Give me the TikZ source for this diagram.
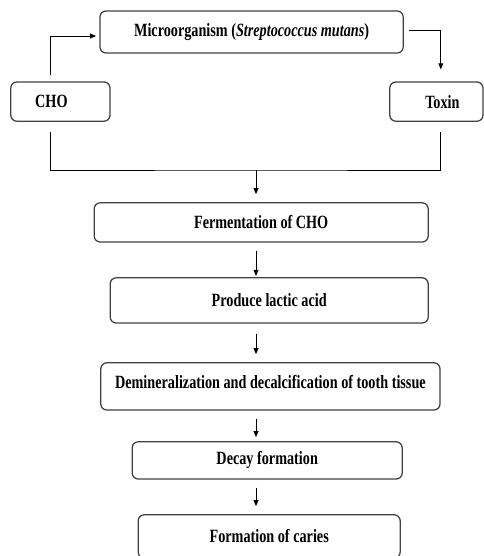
\documentclass[tikz,border=0pt]{standalone}
\usepackage{fontspec}
\setmainfont{Liberation Serif}[FakeStretch=0.76]
\usetikzlibrary{arrows.meta}

\begin{document}
\begin{tikzpicture}[
        stagebox/.style={draw=black!75, line width=0.9pt, rounded corners=0.15cm, inner sep=0pt, font=\fontsize{13.3}{15}\selectfont\bfseries},
        flow/.style={-{Triangle[length=1.5mm, width=1.2mm]}, line width=0.7pt},
        link/.style={line width=0.7pt}]
        \useasboundingbox (0, 0) rectangle (12.1, -13.9);

        \node[stagebox, minimum width=7.58cm, minimum height=1.05cm] (micro) at (6.29, -0.8) {Microorganism (\textit{Streptococcus mutans})};
        \node[stagebox, minimum width=2.48cm, minimum height=0.98cm] (cho) at (1.51, -2.54) {CHO\hspace*{0.45cm}};
        \node[stagebox, minimum width=2.33cm, minimum height=0.98cm] (toxin) at (10.91, -2.54) {\hspace*{0.3cm}Toxin};

        \node[stagebox, minimum width=8.35cm, minimum height=0.98cm] (ferm) at (6.53, -5.56) {Fermentation of CHO};
        \node[stagebox, minimum width=7.95cm, minimum height=1.13cm] (lactic) at (6.73, -7.51) {Produce lactic acid};
        \node[stagebox, minimum width=8.48cm, minimum height=1.18cm] (demin) at (6.76, -9.66) {\raisebox{0.2cm}{Demineralization and decalcification of tooth tissue}};
        \node[stagebox, minimum width=6.75cm, minimum height=0.93cm] (decay) at (6.68, -11.51) {Decay formation};
        \node[stagebox, minimum width=6.55cm, minimum height=1.08cm] (caries) at (6.73, -13.41) {Formation of caries};

        \coordinate (join) at (6.4, -4.25);

        \draw[flow, shorten <=0.15cm, shorten >=0.08cm] ([xshift=-0.26cm]cho.north) |- ([yshift=-0.1cm]micro.west);
        \draw[flow, shorten <=0.12cm, shorten >=0.3cm] ([yshift=0.05cm]micro.east) -| ([xshift=0.11cm]toxin.north);
        \draw[link] ([xshift=-0.26cm, yshift=-0.25cm]cho.south) |- (join) -| ([xshift=0.11cm, yshift=-0.25cm]toxin.south);

        \draw[flow, shorten >=0.2cm] (join) -- (ferm.north -| join);
        \draw[flow, shorten <=0.2cm, shorten >=0.03cm] (ferm.south -| join) -- (lactic.north -| join);
        \draw[flow, shorten <=0.25cm, shorten >=0.2cm] (lactic.south -| join) -- (demin.north -| join);
        \draw[flow, shorten <=0.2cm, shorten >=0.1cm] (demin.south -| join) -- (decay.north -| join);
        \draw[flow, shorten <=0.2cm, shorten >=0.2cm] (decay.south -| join) -- (caries.north -| join);

        \end{tikzpicture}
\end{document}
